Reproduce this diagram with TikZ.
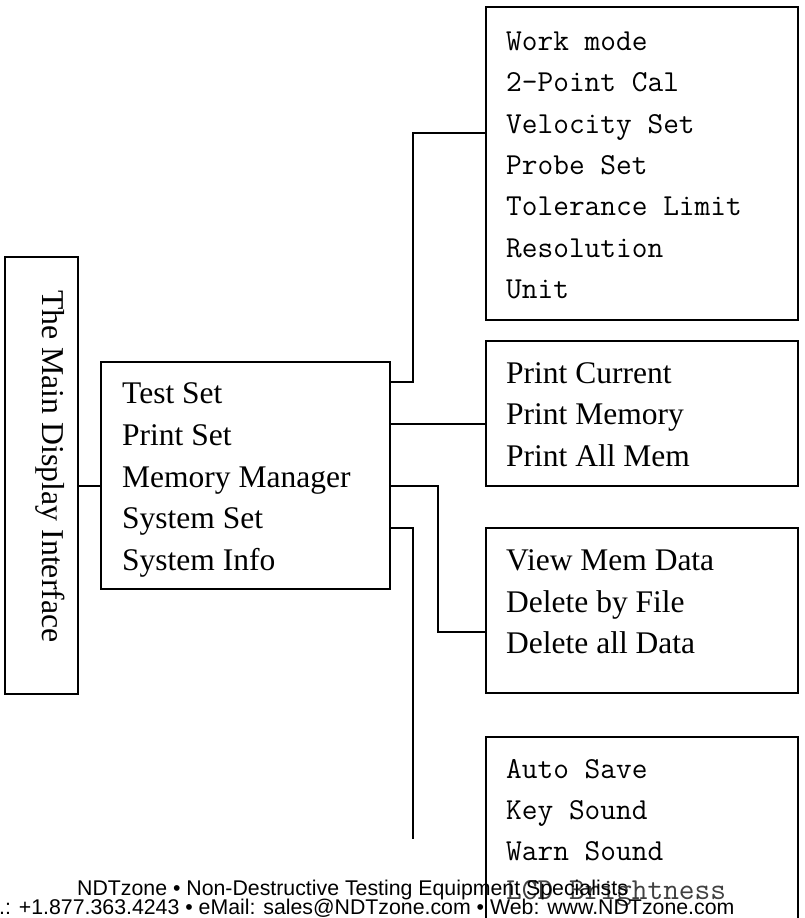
\documentclass[tikz,border=0pt]{standalone}
\usepackage{fontspec}
\setmainfont{Liberation Serif}
\newfontfamily\sansf{Liberation Sans}
\begin{document}
\begin{tikzpicture}[x=1pt,y=-1pt,
  box/.style={draw, line width=1.4pt, inner sep=0pt, outer sep=0pt, anchor=north west},
  wire/.style={line width=1.4pt},
  sline/.style={anchor=base west, inner sep=0pt, font=\fontsize{31.5}{38}\selectfont},
  mline/.style={anchor=base west, inner sep=0pt, font=\ttfamily\fontsize{30.5}{38}\selectfont},
  fline/.style={anchor=base west, inner sep=0pt, font=\sansf\fontsize{21.3}{24}\selectfont}]
\useasboundingbox (0,0) rectangle (804,918);
\fill[white] (0,0) rectangle (804,918);

% boxes
\node[box, minimum width=73pt, minimum height=437pt] (main) at (5,257) {};
\node[box, minimum width=289pt, minimum height=227pt] (mid) at (101,362) {};
\node[box, minimum width=312pt, minimum height=313pt] (work) at (486,7) {};
\node[box, minimum width=312pt, minimum height=145pt] (print) at (486,341) {};
\node[box, minimum width=312pt, minimum height=165pt] (mem) at (486,528) {};
\node[box, minimum width=312pt, minimum height=203pt] (sys) at (486,737) {};

% main text
\node[anchor=base west, inner sep=0pt, rotate=-90, font=\fontsize{31.8}{38}\selectfont] (maintxt) at (42,290) {The Main Display Interface};

% mid text
\node[sline] (m1) at (122,403) {Test Set};
\node[sline] (m2) at (122,445) {Print Set};
\node[sline] (m3) at (122,487) {Memory Manager};
\node[sline] (m4) at (122,528) {System Set};
\node[sline] (m5) at (122,570) {System Info};

% work text
\node[mline] (w1) at (506,50) {Work mode};
\node[mline] (w2) at (506,91) {2-Point Cal};
\node[mline] (w3) at (506,133) {Velocity Set};
\node[mline] (w4) at (506,174) {Probe Set};
\node[mline] (w5) at (506,215) {Tolerance Limit};
\node[mline] (w6) at (506,257) {Resolution};
\node[mline] (w7) at (506,298) {Unit};

% print text
\node[sline] (p1) at (506,383) {Print Current};
\node[sline] (p2) at (506,424) {Print Memory};
\node[sline] (p3) at (506,466) {Print All Mem};

% memory text
\node[sline] (d1) at (506,570) {View Mem Data};
\node[sline] (d2) at (506,612) {Delete by File};
\node[sline] (d3) at (506,653) {Delete all Data};

% system text
\node[mline] (s1) at (506,778) {Auto Save};
\node[mline] (s2) at (506,819) {Key Sound};
\node[mline] (s3) at (506,860) {Warn Sound};
\node[mline, text=black!75] (s4) at (506,899) {LCD Brightness};

% connector helpers
\coordinate (c1) at (0,382);
\coordinate (c2) at (0,424);
\coordinate (c3) at (0,486);
\coordinate (c4) at (0,528);
\coordinate (j1) at (413,133);
\coordinate (j3) at (438,632);
\coordinate (j4) at (413,839);

\draw[wire] (main.east |- c3) -- (mid.west |- c3);
\draw[wire] (mid.east |- c1) -| (j1) -- (work.west |- j1);
\draw[wire] (mid.east |- c2) -- (print.west |- c2);
\draw[wire] (mid.east |- c3) -| (j3) -- (mem.west |- j3);
\draw[wire] (mid.east |- c4) -| (j4);

% footer
\node[fline] (f1) at (77,895) {NDTzone • Non-Destructive Testing Equipment Specialists};
\node[fline] (f2) at (-1,914) {.: +1.877.363.4243 • eMail: sales@NDTzone.com • Web: www.NDTzone.com};
\end{tikzpicture}
\end{document}
